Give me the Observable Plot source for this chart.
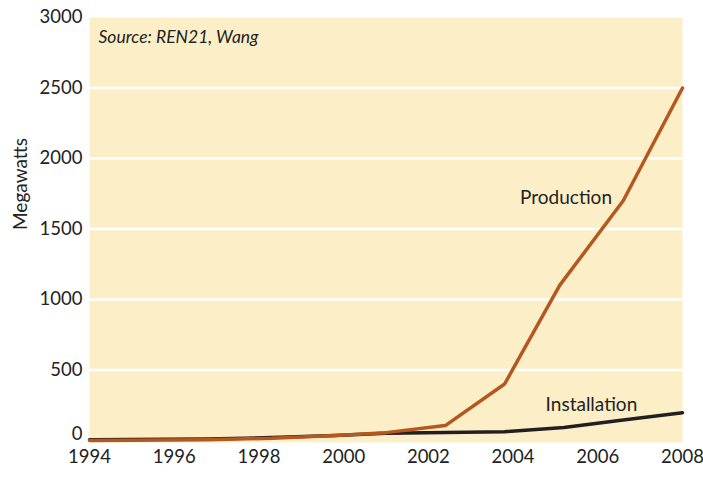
<!DOCTYPE html>
<html><head><meta charset="utf-8">
<script src="https://cdn.jsdelivr.net/npm/d3@7"></script>
<script src="https://cdn.jsdelivr.net/npm/@observablehq/plot@0.6"></script>
<style>
body{margin:0;background:#fff;}
svg{font-family:Lato,"Open Sans",sans-serif;}
</style>
</head><body><div id="chart"></div>
<script>
const prodYears = [1994, 1996.8, 1998.3, 1999.8, 2001, 2002.4, 2003.8, 2005.1, 2006.6, 2008];
const prodValues = [0, 5, 15, 35, 55, 105, 400, 1100, 1700, 2500];
const instYears = [1994, 1996.8, 1998.3, 1999.8, 2001, 2003.8, 2005.2, 2006.6, 2008];
const instValues = [5, 10, 20, 35, 50, 62, 92, 145, 196];
const xTicks = [1994, 1996, 1998, 2000, 2002, 2004, 2006, 2008];
const yTicks = [500, 1000, 1500, 2000, 2500, 3000];
const seriesLabels = ["Production", "Installation"];
const sourceText = "Source: REN21, Wang";

const prod = prodYears.map((x, i) => ({x, y: prodValues[i]}));
const inst = instYears.map((x, i) => ({x, y: instValues[i]}));

const chart = Plot.plot({
  width: 703, height: 489,
  marginLeft: 89, marginRight: 21, marginTop: 17, marginBottom: 47,
  style: {fontSize: "18px", color: "#222", fontFamily: "Lato, 'Open Sans', sans-serif"},
  x: {domain: [1994, 2008]},
  y: {domain: [-15, 3000]},
  marks: [
    Plot.frame({fill: "#fcefc8", stroke: null}),
    Plot.gridY([500, 1000, 1500, 2000, 2500], {stroke: "#fff", strokeOpacity: 1, strokeWidth: 2.5}),
    Plot.axisX(xTicks, {tickSize: 0, tickPadding: 7, tickFormat: d => String(d), label: null, fontSize: 18.5}),
    Plot.axisY(yTicks, {tickSize: 0, tickPadding: 7, tickFormat: d => String(d), label: null, fontSize: 18.5}),
    Plot.axisY([0], {tickSize: 0, tickPadding: 7, tickFormat: d => String(d), label: null, dy: -6, fontSize: 18.5}),
    Plot.line(inst, {x: "x", y: "y", stroke: "#231f20", strokeWidth: 3.5}),
    Plot.line(prod, {x: "x", y: "y", stroke: "#b4581f", strokeWidth: 3.5}),
    Plot.text([seriesLabels[0]], {x: 2005.25, y: 1720, text: d => d, fontSize: 19, fill: "#222"}),
    Plot.text([seriesLabels[1]], {x: 2005.85, y: 250, text: d => d, fontSize: 19, fill: "#222"}),
    Plot.text([sourceText], {x: 1994, y: 2860, text: d => d, textAnchor: "start", dx: 9, fontSize: 17.5, fontStyle: "italic", fill: "#222"}),
    Plot.text(["Megawatts"], {frameAnchor: "left", dx: -69, rotate: -90, text: d => d, fontSize: 19, fill: "#222"})
  ]
});
document.getElementById("chart").appendChild(chart);
</script></body></html>
